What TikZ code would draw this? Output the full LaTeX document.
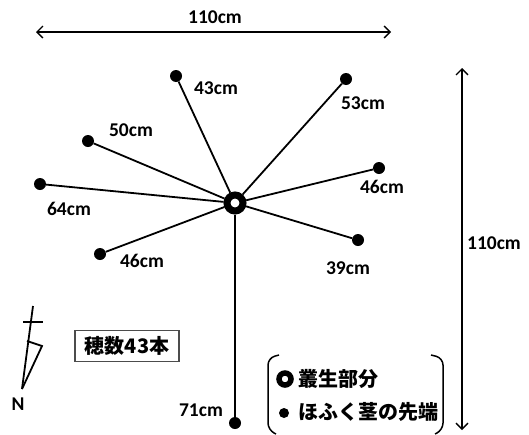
\documentclass[tikz,border=0pt]{standalone}
\usepackage{fontspec}
\setmainfont{Carlito}
\newfontfamily\cjk{Noto Sans CJK JP}
\usetikzlibrary{arrows.meta}
\begin{document}
\begin{tikzpicture}[x=1pt,y=-1pt,
  tip/.style={circle,fill=black,inner sep=0pt,minimum size=12pt},
  hub/.style={circle,draw=black,line width=7pt,fill=white,inner sep=0pt,minimum size=16pt},
  spoke/.style={line width=1.8pt},
  lbl/.style={font=\bfseries\fontsize{19.5}{19.5}\selectfont,inner sep=0pt},
  jp/.style={font=\cjk\bfseries\fontsize{20}{20}\selectfont,inner sep=0pt},
  dim/.style={line width=1.3pt,{Straight Barb[length=6pt,width=12pt]}-{Straight Barb[length=6pt,width=12pt]}}]
\useasboundingbox (0,0) rectangle (529,434);
% dimension arrows
\coordinate (h1) at (36,32); \coordinate (h2) at (391,32);
\draw[dim] (h1) -- (h2);
\node[lbl] (hl) at (215,17) {110cm};
\coordinate (v1) at (462,68); \coordinate (v2) at (462,430);
\draw[dim] (v1) -- (v2);
\node[lbl] (vl) at (494,243) {110cm};
% hub and tips
\node[hub] (c) at (235,203) {};
\node[tip] (d43) at (176,76) {};
\node[tip] (d53) at (346,79) {};
\node[tip] (d50) at (88,141) {};
\node[tip] (d46r) at (379,168) {};
\node[tip] (d64) at (40,184) {};
\node[tip] (d46l) at (100,254) {};
\node[tip] (d39) at (358,240) {};
\node[tip] (d71) at (235,423) {};
\foreach \d in {d43,d53,d50,d46r,d64,d46l,d39,d71}
  \draw[spoke] (c) -- (\d);
\node[lbl] (l43) at (216,88) {43cm};
\node[lbl] (l53) at (363,103) {53cm};
\node[lbl] (l50) at (131,130) {50cm};
\node[lbl] (l46r) at (382,187) {46cm};
\node[lbl] (l64) at (69,209) {64cm};
\node[lbl] (l46l) at (142,261) {46cm};
\node[lbl] (l39) at (348,268) {39cm};
\node[lbl] (l71) at (201,410) {71cm};
% count box
\node[jp,draw=black!70,line width=1.5pt,minimum width=104pt,minimum height=31pt] (cnt) at (127,346) {穂数43本};
% north symbol
\draw[line width=1.8pt] (33,306) -- (22,389);
\draw[line width=1.8pt] (23,322) -- (43,322);
\draw[line width=1.8pt] (27,341) -- (42,346) -- (22,389);
\node[lbl] (N) at (18,404) {N};
% legend
\draw[line width=1.5pt,rounded corners=7pt] (279,355) -- (268,358) -- (268,430) -- (276,434);
\draw[line width=1.5pt,rounded corners=7pt] (431,355) -- (443,358) -- (443,430) -- (435,434);
\node[circle,draw=black,line width=5.5pt,fill=white,inner sep=0pt,minimum size=12pt] (lr) at (285,379) {};
\node[jp,anchor=west] (lrt) at (298,379) {叢生部分};
\node[tip,minimum size=10pt] (ld) at (284,413) {};
\node[jp,anchor=west] (ldt) at (298,412) {ほふく茎の先端};
\end{tikzpicture}
\end{document}
